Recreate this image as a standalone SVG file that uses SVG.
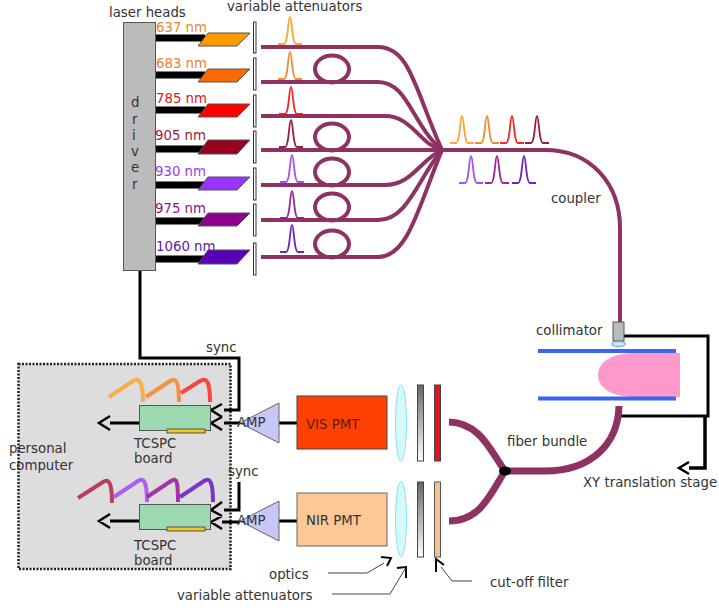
<svg xmlns="http://www.w3.org/2000/svg" width="719" height="611" viewBox="0 0 719 611">
<style>
text{font-family:"DejaVu Sans",Verdana,sans-serif;font-size:13.3px;fill:#333}
.bar{stroke:#000;stroke-width:7;fill:none}
.las{stroke:#555;stroke-width:1}
.att{fill:#fff;stroke:#333;stroke-width:1}
.fib{stroke:#8e3263;stroke-width:4;fill:none}
.bun{stroke:#8e3263;stroke-width:7;fill:none}
.ln{stroke:#000;stroke-width:3;fill:none}
.lnb{stroke:#000;stroke-width:3.5;fill:none}
.pulse{fill:none;stroke-width:1.800;opacity:.9}
.thin{stroke:#444;stroke-width:1;fill:none}
.arr{stroke:#000;stroke-width:2.500;fill:none}
.arr2{stroke:#000;stroke-width:2;fill:none}
.saw{fill:none;stroke-width:4;opacity:.9}
.board{fill:#9cd8b0;stroke:#555;stroke-width:1}
.slot{fill:#f0c820;stroke:#555;stroke-width:1}
.amp{fill:#c8c8f8;stroke:#666;stroke-width:1}
.lens{fill:#d8f8fc;stroke:#7fe8f4;stroke-width:1}
</style>
<defs>
<linearGradient id="g" x1="0" y1="0" x2="0" y2="1"><stop offset="0" stop-color="#666"/><stop offset="1" stop-color="#fff"/></linearGradient>
<path id="pz" d="M-12 0H-6C-2 0-2-27 0-27S2 0 6 0H12"/>
</defs>
<g id="pc"><rect x="18.500" y="364" width="212" height="205" fill="#ddd" stroke="#222" stroke-width="2.500" stroke-dasharray="2 1.500"/></g>
<g id="connectors">
<path class="bar" d="M155 38H205M155 75H205M155 110H205M155 149H205M155 185H205M155 221H205M155 259H205"/>
<path class="ln" d="M140 270V358H239V410H224M239 482V510H224"/>
<path class="ln" d="M224 423H240M222 522H240M270 423H297M270 521H297"/>
<path class="ln" d="M139 423H110M139 521H110"/>
<path class="arr" d="M110 416L99 423L110 430M110 514L99 521L110 528M222 404L211 410L222 417M222 417L211 423L222 430M222 502L211 510L222 516M222 516L211 522L222 529"/>
<path class="ln" d="M624 336H708V416H621"/>
<path class="lnb" d="M705 416V468H689"/>
<path class="arr" d="M689 462L679 468L689 474"/>
<g id="fibers">
<path class="fib" d="M261 47H378C410 47 415 90 442 150"/>
<path class="fib" d="M261 82H378C408 82 412 125 442 150"/>
<path class="fib" d="M261 116H385C412 116 420 145 442 150"/>
<path class="fib" d="M261 150H442"/>
<path class="fib" d="M261 185H385C412 185 420 160 442 150"/>
<path class="fib" d="M261 220H378C408 220 418 178 442 150"/>
<path class="fib" d="M261 257H378C408 257 418 208 442 150"/>
<path class="fib" d="M442 150H545C592 150 620 185 620 228V322"/>
<ellipse class="fib" cx="332" cy="69" rx="17" ry="13.500"/>
<ellipse class="fib" cx="332" cy="137" rx="17" ry="13.500"/>
<ellipse class="fib" cx="332" cy="172" rx="17" ry="13.500"/>
<ellipse class="fib" cx="332" cy="207" rx="17" ry="13.500"/>
<ellipse class="fib" cx="332" cy="244" rx="17" ry="13.500"/>
</g>
<path class="bun" d="M449 422C480 423 490 450 505 471C490 495 480 521 449 521"/>
<path class="bun" d="M505 471H545C590 471 618 445 619 406"/>
<ellipse cx="505" cy="471" rx="6" ry="4.500" fill="#000"/>
<path class="thin" d="M328 573H367L384 563M332 594H390L405 569M472 581H452L441 567"/>
<path class="arr2" d="M381 557L391 558L387 566M397 568L406 567L406 578M436 572L436 559L444 565"/>
</g>
<g id="driver"><rect x="123.500" y="22.500" width="32" height="248" fill="#bbb" stroke="#555"/>
<text x="131" y="107">d</text><text x="132" y="124">r</text><text x="132" y="140">i</text><text x="131" y="156">v</text><text x="131" y="172">e</text><text x="132" y="189">r</text></g>
<g id="laser-637"><polygon class="las" fill="#ff9a00" points="198,46 208,33 250,33 237,46"/><text x="156" y="32" style="fill:#e8882a">637 nm</text></g>
<g id="laser-683"><polygon class="las" fill="#ff6a00" points="198,82 208,69 250,69 237,82"/><text x="156" y="68" style="fill:#f08030">683 nm</text></g>
<g id="laser-785"><polygon class="las" fill="#f00" points="198,117 208,104 250,104 237,117"/><text x="156" y="103" style="fill:#d82020">785 nm</text></g>
<g id="laser-905"><polygon class="las" fill="#990020" points="198,154 208,140 250,140 237,154"/><text x="155" y="140" style="fill:#a01838">905 nm</text></g>
<g id="laser-930"><polygon class="las" fill="#9933ff" points="198,190 208,177 250,177 237,190"/><text x="155" y="176" style="fill:#9a40f0">930 nm</text></g>
<g id="laser-975"><polygon class="las" fill="#8e008e" points="198,226 208,213 250,213 237,226"/><text x="155" y="213" style="fill:#901090">975 nm</text></g>
<g id="laser-1060"><polygon class="las" fill="#5a00b8" points="198,264 208,250 250,250 237,264"/><text x="156" y="251" style="fill:#6020b0">1060 nm</text></g>
<g id="attenuators-top">
<rect class="att" x="253.500" y="22" width="2.500" height="31"/><rect class="att" x="253.500" y="58" width="2.500" height="32"/><rect class="att" x="253.500" y="95" width="2.500" height="32"/><rect class="att" x="253.500" y="131" width="2.500" height="32"/><rect class="att" x="253.500" y="168" width="2.500" height="32"/><rect class="att" x="253.500" y="204" width="2.500" height="32"/><rect class="att" x="253.500" y="243" width="2.500" height="32"/>
</g>
<g id="pulses">
<use href="#pz" class="pulse" stroke="#ff9a20" x="290" y="44"/>
<use href="#pz" class="pulse" stroke="#f08020" x="290" y="79"/>
<use href="#pz" class="pulse" stroke="#ee1111" x="291" y="114"/>
<use href="#pz" class="pulse" stroke="#8a0a28" x="291" y="147"/>
<use href="#pz" class="pulse" stroke="#9a40f0" x="292" y="182"/>
<use href="#pz" class="pulse" stroke="#8e108e" x="292" y="218"/>
<use href="#pz" class="pulse" stroke="#5a10c0" x="292" y="252"/>
<use href="#pz" class="pulse" stroke="#ff9a20" x="462" y="143"/>
<use href="#pz" class="pulse" stroke="#f08020" x="487" y="143"/>
<use href="#pz" class="pulse" stroke="#ee1111" x="512" y="143"/>
<use href="#pz" class="pulse" stroke="#8a0a28" x="537" y="143"/>
<use href="#pz" class="pulse" stroke="#9a40f0" x="471" y="183"/>
<use href="#pz" class="pulse" stroke="#8e108e" x="497" y="183"/>
<use href="#pz" class="pulse" stroke="#5a10c0" x="524" y="183"/>
</g>
<g id="board-vis">
<path class="saw" stroke="#f9a93a" d="M109 397L133 381C139 377 143 382 143 402"/>
<path class="saw" stroke="#f58a30" d="M146 397L170 381C176 377 179 382 179 402"/>
<path class="saw" stroke="#f33" d="M181 393L200 381C207 377 210 382 210 402"/>
<rect class="board" x="139.500" y="405.500" width="71" height="25"/><rect class="slot" x="167" y="429" width="38" height="4"/>
<text x="134" y="448">TCSPC</text><text x="134" y="463">board</text></g>
<g id="board-nir">
<path class="saw" stroke="#b03050" d="M78 498L103 482C109 478 112 483 112 503"/>
<path class="saw" stroke="#a850f0" d="M114 497L138 481C144 477 147 482 147 502"/>
<path class="saw" stroke="#a020a0" d="M147 497L171 481C177 477 178 482 178 502"/>
<path class="saw" stroke="#7020c8" d="M180 497L204 481C210 477 213 482 213 502"/>
<rect class="board" x="139.500" y="504.500" width="71" height="25"/><rect class="slot" x="167" y="527" width="38" height="4"/>
<text x="134" y="550">TCSPC</text><text x="134" y="565">board</text></g>
<g id="amp-vis"><polygon class="amp" points="279,403 279,443 240,423"/><text x="237" y="427">AMP</text></g>
<g id="amp-nir"><polygon class="amp" points="279,501 279,541 240,521"/><text x="237" y="525">AMP</text></g>
<g id="pmt-vis"><rect x="297" y="396" width="90" height="53" fill="#ff4000" stroke="#444"/><text x="306" y="429" style="fill:#521">VIS PMT</text></g>
<g id="pmt-nir"><rect x="297" y="493" width="90" height="53" fill="#fdc896" stroke="#666"/><text x="306" y="525">NIR PMT</text></g>
<g id="optics-vis"><ellipse class="lens" cx="401" cy="423" rx="5.500" ry="38"/><rect x="417.500" y="385" width="6" height="76" fill="url(#g)" stroke="#444"/><rect x="434.500" y="385" width="6" height="76" fill="#e8101c" stroke="#444"/></g>
<g id="optics-nir"><ellipse class="lens" cx="401" cy="519" rx="5.500" ry="37.500"/><rect x="417.500" y="482" width="6" height="75" fill="url(#g)" stroke="#444"/><rect x="434.500" y="482" width="6" height="75" fill="#f4c090" stroke="#555"/></g>
<g id="collimator"><rect x="613" y="322" width="11" height="19" fill="#bbb" stroke="#555"/><ellipse cx="618.500" cy="344" rx="7" ry="2.500" fill="#cfe8fa" stroke="#4aa0e8"/></g>
<g id="sample"><path d="M680 353V397H636C615 397 598 390 598 375S615 353 636 353Z" fill="#ff99cc"/><path d="M538 351H676M538 398.500H676" stroke="#3c64ee" stroke-width="4" fill="none"/></g>
<g id="labels">
<text x="109" y="17">laser heads</text>
<text x="227" y="11">variable attenuators</text>
<text x="551" y="203">coupler</text>
<text x="536" y="335">collimator</text>
<text x="507" y="446">fiber bundle</text>
<text x="583" y="487">XY translation stage</text>
<text x="206" y="352">sync</text>
<text x="228" y="476">sync</text>
<text x="9" y="453">personal</text>
<text x="9" y="470">computer</text>
<text x="269" y="579">optics</text>
<text x="177" y="600">variable attenuators</text>
<text x="490" y="587">cut-off filter</text>
</g>
</svg>
